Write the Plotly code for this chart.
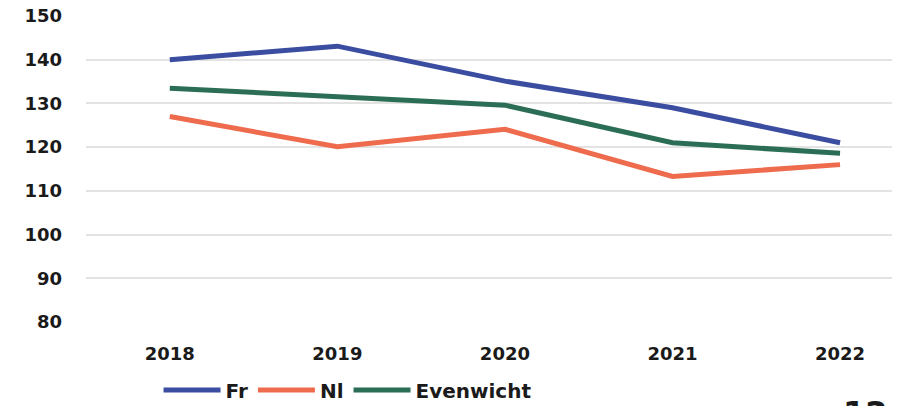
import plotly.graph_objects as go

years = ["2018", "2019", "2020", "2021", "2022"]
fr = [140, 143.1, 135.1, 129.0, 121.0]
nl = [127, 120.1, 124.1, 113.3, 116.0]
evenwicht = [133.5, 131.5, 129.6, 121.0, 118.6]
y_ticks = [80, 90, 100, 110, 120, 130, 140, 150]

series = [("Fr", fr, "#3A4DA0"), ("Nl", nl, "#EE6B4D"), ("Evenwicht", evenwicht, "#2B6E55")]

FONT = "DejaVu Sans"
fig = go.Figure()
for name, vals, col in series:
    fig.add_trace(go.Scatter(x=list(range(len(years))), y=vals, name=name, mode="lines",
                             line=dict(color=col, width=5)))

fig.update_layout(
    width=899, height=406,
    margin=dict(l=86, r=7, t=16, b=84, autoexpand=False),
    paper_bgcolor="white", plot_bgcolor="white",
    font=dict(family=FONT, color="#1a1a1a"),
    showlegend=True,
    legend=dict(orientation="h", x=0.09, xanchor="left", y=-0.222, yanchor="middle",
                font=dict(size=20, family=FONT, weight=600), itemwidth=57,
                tracegroupgap=0, itemsizing="constant"),
    xaxis=dict(range=[-0.5, 4.31], tickmode="array", tickvals=list(range(len(years))),
               ticktext=years, showgrid=False, zeroline=False, showline=False,
               tickfont=dict(size=18, weight=600), ticks="", ticklabelstandoff=19,
               automargin=False),
    yaxis=dict(range=[80, 150], tickmode="array", tickvals=y_ticks, showgrid=True,
               gridcolor="#E3E3E3", gridwidth=2, zeroline=False, showline=False,
               tickfont=dict(size=18, weight=600), ticks="", ticklabelstandoff=23,
               automargin=False),
)
fig.add_annotation(text="<b>12</b>", xref="paper", yref="paper", x=0.967, y=-0.228,
                   yanchor="top", xanchor="center", showarrow=False,
                   font=dict(size=32, family=FONT, color="#1a1a1a"))
fig.write_html("out.html", config={"displayModeBar": False},
               post_script="document.body.style.margin='0';document.body.style.overflow='hidden';")
